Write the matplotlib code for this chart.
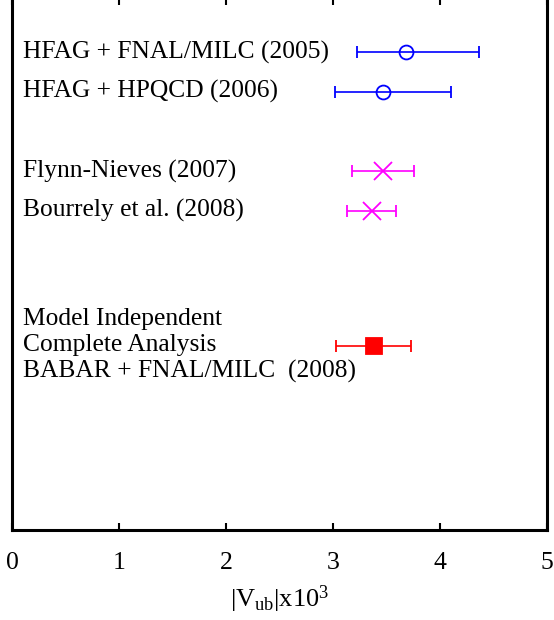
import matplotlib
matplotlib.use("Agg")
import matplotlib.pyplot as plt

plt.rcParams['font.family'] = ['Liberation Serif', 'DejaVu Serif']
plt.rcParams['mathtext.fontset'] = 'custom'
plt.rcParams['mathtext.rm'] = 'Liberation Serif'
plt.rcParams['mathtext.it'] = 'Liberation Serif:italic'

labels = ["HFAG + FNAL/MILC (2005)", "HFAG + HPQCD (2006)",
          "Flynn-Nieves (2007)", "Bourrely et al. (2008)",
          "Model Independent\nComplete Analysis\nBABAR + FNAL/MILC  (2008)"]
rows = [0, 1, 3, 4, 7.4]
values = [3.68, 3.47, 3.47, 3.36, 3.38]
lower = [3.22, 3.02, 3.18, 3.13, 3.03]
upper = [4.36, 4.10, 3.76, 3.59, 3.73]
colors = ['#0000ff', '#0000ff', '#ff00ff', '#ff00ff', '#ff0000']
markers = ['o', 'o', 'x', 'x', 's']
xticks = [0, 1, 2, 3, 4, 5]

fig = plt.figure(figsize=(5.54, 6.2), dpi=100)
ax = fig.add_axes([12/554, 90/620, 535/554, 532/620])

for y, v, lo, hi, c, m in zip(rows, values, lower, upper, colors, markers):
    mfc = 'none' if m == 'o' else c
    ms = {'o': 10, 'x': 13, 's': 11}[m]
    ax.errorbar([v], [y], xerr=[[v - lo], [hi - v]], fmt=m, color=c,
                mfc=mfc, mec=c, ms=ms, mew=1.3, elinewidth=1.2,
                capsize=4, capthick=1.5)

for y, lab in zip(rows, labels):
    ax.text(0.1, y, lab, ha='left', va='center', fontsize=18.4, linespacing=1.22)

ax.set_xlim(0, 5)
ax.set_ylim(12.04, -1.36)
ax.set_xticks(xticks)
ax.set_xticklabels([str(t) for t in xticks], fontsize=18.5)
ax.set_yticks([])
ax.tick_params(axis='x', direction='in', top=True, bottom=True, length=5,
               width=1.5, pad=16)
for s in ax.spines.values():
    s.set_linewidth(2.2)
ax.set_xlabel(r'$\mathrm{|V_{ub}|x10^{3}}$', fontsize=19, labelpad=7)

fig.savefig('out.png', dpi=100)
